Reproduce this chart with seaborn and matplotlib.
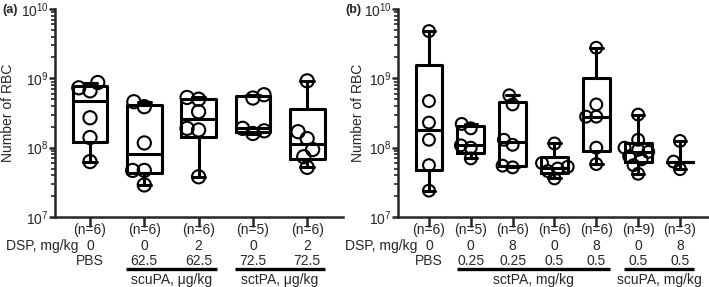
import numpy as np
import pandas as pd
import matplotlib
matplotlib.use("Agg")
import matplotlib.pyplot as plt
import seaborn as sns
from matplotlib.ticker import NullFormatter
from matplotlib.transforms import blended_transform_factory, offset_copy

# ---- data (number of RBC per animal) ----
a_groups = ["pbs", "scu62.5_0", "scu62.5_2", "sct72.5_0", "sct72.5_2"]
a_values = [
    [6.3e7, 1.4e8, 2.7e8, 6.6e8, 7.3e8, 8.7e8],
    [2.9e7, 4.7e7, 4.7e7, 1.17e8, 3.9e8, 4.6e8],
    [3.8e7, 1.8e8, 1.9e8, 3.3e8, 5.0e8, 5.3e8],
    [1.6e8, 1.75e8, 1.9e8, 5.2e8, 5.8e8],
    [5.2e7, 7.4e7, 9.4e7, 1.35e8, 1.7e8, 9.2e8],
]
a_dsp = ["0", "0", "2", "0", "2"]
a_dose = ["PBS", "62.5", "62.5", "72.5", "72.5"]
a_brackets = [("scuPA, μg/kg", 1, 2), ("sctPA, μg/kg", 3, 4)]

b_groups = ["pbs", "sct0.25_0", "sct0.25_8", "sct0.5_0", "sct0.5_8", "scu0.5_0", "scu0.5_8"]
b_values = [
    [2.4e7, 5.6e7, 1.3e8, 2.3e8, 4.7e8, 4.8e9],
    [7.0e7, 1.0e8, 1.08e8, 1.9e8, 2.2e8],
    [5.2e7, 5.5e7, 1.1e8, 1.3e8, 4.2e8, 5.7e8],
    [3.6e7, 4.6e7, 5.0e7, 5.3e7, 6.0e7, 1.15e8],
    [5.8e7, 1.0e8, 2.8e8, 2.8e8, 4.2e8, 2.76e9],
    [4.2e7, 5.6e7, 6.8e7, 7.5e7, 8.7e7, 9.3e7, 1.0e8, 1.3e8, 3.0e8],
    [4.9e7, 6.3e7, 1.25e8],
]
b_dsp = ["0", "0", "8", "0", "8", "0", "8"]
b_dose = ["PBS", "0.25", "0.25", "0.5", "0.5", "0.5", "0.5"]
b_brackets = [("sctPA, mg/kg", 1, 4), ("scuPA, mg/kg", 5, 6)]

sns.set_style("ticks")
plt.rcParams["font.family"] = ["Liberation Sans", "DejaVu Sans"]
plt.rcParams["font.size"] = 10

LW = 2.2
swarms = []  # (collection, final marker size) - swarm laid out small, drawn bigger


def box_stats(v):
    # min/max whiskers, quartiles as in GraphPad (n+1 rule)
    v = np.sort(np.asarray(v))
    med = np.median(v)
    if len(v) > 3:
        q1, q3 = np.percentile(v, [25, 75], method="weibull")
    else:
        q1 = q3 = med
    return dict(med=med, q1=q1, q3=q3, whislo=v[0], whishi=v[-1], fliers=[])


def draw_panel(fig, rect, groups, values, dsp, dose, brackets, xlim, tag, tag_x, ylab_x,
               msize, layout_size, capw):
    ax = fig.add_axes(rect)
    df = pd.DataFrame(
        [(g, x) for g, vals in zip(groups, values) for x in vals], columns=["group", "rbc"]
    )
    sns.swarmplot(data=df, x="group", y="rbc", order=groups, ax=ax, size=layout_size,
                  log_scale=True, color="white", zorder=3, warn_thresh=1)
    for coll in ax.collections:
        coll.set_facecolor("none")
        coll.set_edgecolor("black")
        coll.set_linewidth(1.5)
        swarms.append((coll, msize))

    stats = [box_stats(v) for v in values]
    props = dict(color="black", linewidth=LW)
    ax.bxp(stats, positions=range(len(groups)), widths=0.64, showfliers=False,
           manage_ticks=False, boxprops=props, whiskerprops=props, capprops=props,
           medianprops=props, capwidths=capw)

    ax.set_ylim(1e7, 1e10)
    ax.set_xlim(*xlim)
    ax.set_xticks(range(len(groups)))
    ax.set_xlabel("")
    ax.set_ylabel("Number of RBC", fontsize=10)
    ax.yaxis.set_label_coords(ylab_x, 0.5)
    ax.yaxis.set_minor_formatter(NullFormatter())
    sns.despine(ax=ax)
    for s in ["left", "bottom"]:
        ax.spines[s].set_linewidth(1.8)
    ax.tick_params(axis="y", which="major", length=4, width=1.8, labelsize=10, pad=0.5)
    ax.tick_params(axis="y", which="minor", length=3, width=1.2)
    ax.tick_params(axis="x", which="major", length=7, width=1.8, labelbottom=False)

    base = blended_transform_factory(ax.transData, ax.transAxes)

    def row(dy, dx=0):
        return offset_copy(base, fig=fig, x=dx, y=-dy, units="dots")

    for i, vals in enumerate(values):
        ax.text(i, 0, f"(n={len(vals)})", transform=row(13), ha="center", va="center")
        ax.text(i, 0, dsp[i], transform=row(29), ha="center", va="center")
        ax.text(i, 0, dose[i], transform=row(44), ha="center", va="center")
    ax.text(0, 0, "DSP, mg/kg", transform=row(29, -12), ha="right", va="center")
    for label, i0, i1 in brackets:
        ax.plot([i0 - 0.33, i1 + 0.33], [0, 0], transform=row(52), color="black",
                linewidth=2.4, clip_on=False, solid_capstyle="butt")
        ax.text((i0 + i1) / 2, 0, label, transform=row(63), ha="center", va="center")

    fig.text(tag_x, 1 - 10 / 287, tag, fontsize=9, fontweight="bold", va="center")
    return ax


fig = plt.figure(figsize=(7.09, 2.87), dpi=100)
W, H = 709, 287
draw_panel(fig, [55 / W, 1 - 217 / H, 288 / W, 208 / H], a_groups, a_values, a_dsp, a_dose,
           a_brackets, (-0.645, 4.66), "(a)", 2 / W, -0.139, 9.5, 6.5, 0.25)
draw_panel(fig, [398 / W, 1 - 217 / H, 310 / W, 208 / H], b_groups, b_values, b_dsp, b_dose,
           b_brackets, (-0.74, 6.67), "(b)", 345 / W, -0.106, 8.5, 5.5, 0.3)

# lay the swarm out with small markers (compact like GraphPad), then freeze and enlarge
fig.canvas.draw()
for coll, ms in swarms:
    if "draw" in coll.__dict__:
        del coll.draw
    coll.set_sizes([ms ** 2])

fig.savefig("out.png", dpi=100)
